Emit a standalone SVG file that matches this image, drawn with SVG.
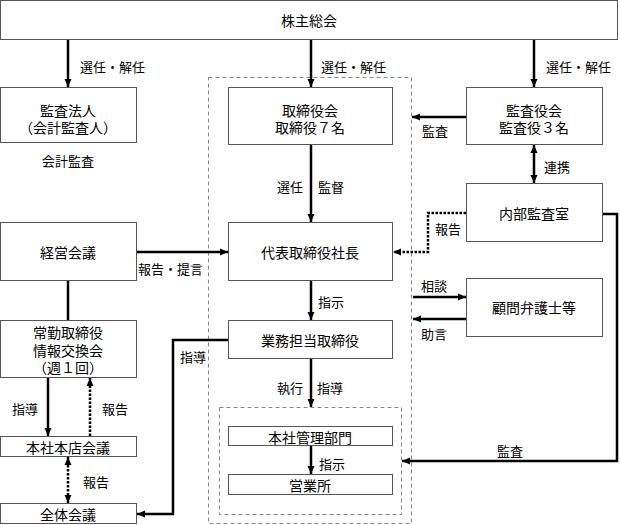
<svg xmlns="http://www.w3.org/2000/svg" width="620" height="525" viewBox="0 0 620 525">
<defs>
<style>
text{font-family:"Noto Sans CJK JP","Noto Sans CJK SC",sans-serif;fill:#000;dominant-baseline:central}
.n{font-size:14px;text-anchor:middle}
.l{font-size:13px}
.box{fill:#fff;stroke:#555;stroke-width:1}
.frame{fill:none;stroke:#888;stroke-width:1;stroke-dasharray:4 3}
.c{fill:none;stroke:#000;stroke-width:2.5}
.d{fill:none;stroke:#000;stroke-width:2.5;stroke-dasharray:2.5 1.5}
</style>
<marker id="a" markerUnits="userSpaceOnUse" markerWidth="10" markerHeight="10" viewBox="0 0 10 10" refX="9" refY="5" orient="auto-start-reverse"><path d="M1,1.5 L9,5 L1,8.5 Z" fill="#000"/></marker>
</defs>
<rect x="0" y="0" width="620" height="525" fill="#fff"/>
<g id="frames">
<rect class="frame" x="208.5" y="77.5" width="203" height="446"/>
<rect class="frame" x="219.5" y="407.5" width="182" height="107"/>
</g>
<g id="connectors">
<path class="c" d="M68,39 V87" marker-end="url(#a)"/>
<path class="c" d="M311,39 V87" marker-end="url(#a)"/>
<path class="c" d="M534,39 V87" marker-end="url(#a)"/>
<path class="c" d="M466,117 H412" marker-end="url(#a)"/>
<path class="c" d="M534,145 V183" marker-start="url(#a)" marker-end="url(#a)"/>
<path class="c" d="M311,145 V222" marker-end="url(#a)"/>
<path class="c" d="M136,252 H228" marker-end="url(#a)"/>
<path class="d" d="M466,213 H428 V252 H393" marker-end="url(#a)"/>
<path class="c" d="M413,297 H466" marker-end="url(#a)"/>
<path class="c" d="M466,319 H413" marker-end="url(#a)"/>
<path class="c" d="M311,281 V320" marker-end="url(#a)"/>
<path class="c" d="M68,281 V320"/>
<path class="c" d="M228,340 H173 V514 H137" marker-end="url(#a)"/>
<path class="c" d="M48,378 V436" marker-end="url(#a)"/>
<path class="d" d="M90,436 V378" marker-end="url(#a)"/>
<path class="d" d="M68,457 V503" marker-start="url(#a)" marker-end="url(#a)"/>
<path class="c" d="M311,359 V407" marker-end="url(#a)"/>
<path class="c" d="M311,446 V474" marker-end="url(#a)"/>
<path class="c" d="M602,214 H617 V461 H402" marker-end="url(#a)"/>
</g>
<g id="labels">
<text class="l" x="80" y="66">選任・解任</text>
<text class="l" x="321" y="66">選任・解任</text>
<text class="l" x="546" y="66">選任・解任</text>
<text class="l" x="68" y="160" text-anchor="middle">会計監査</text>
<text class="l" x="422" y="130">監査</text>
<text class="l" x="544" y="166">連携</text>
<text class="l" x="303" y="186" text-anchor="end">選任</text>
<text class="l" x="318" y="186">監督</text>
<text class="l" x="138" y="268">報告・提言</text>
<text class="l" x="435" y="228">報告</text>
<text class="l" x="421" y="285">相談</text>
<text class="l" x="421" y="333">助言</text>
<text class="l" x="318" y="301">指示</text>
<text class="l" x="180" y="356">指導</text>
<text class="l" x="12" y="408">指導</text>
<text class="l" x="102" y="408">報告</text>
<text class="l" x="83" y="481">報告</text>
<text class="l" x="303" y="387" text-anchor="end">執行</text>
<text class="l" x="317" y="387">指導</text>
<text class="l" x="319" y="463">指示</text>
<text class="l" x="497" y="450">監査</text>
</g>
<g id="n-kabunushi"><rect class="box" x="0.5" y="0.5" width="617" height="39"/><text class="n" x="309" y="20">株主総会</text></g>
<g id="n-kansahojin"><rect class="box" x="0.5" y="87.5" width="136" height="55"/><text class="n" x="68" y="110">監査法人</text><text class="n" x="68" y="127">（会計監査人）</text></g>
<g id="n-torishimariyakukai"><rect class="box" x="228.5" y="87.5" width="164" height="57"/><text class="n" x="310" y="110">取締役会</text><text class="n" x="310" y="127">取締役７名</text></g>
<g id="n-kansayakukai"><rect class="box" x="466.5" y="87.5" width="136" height="57"/><text class="n" x="534" y="110">監査役会</text><text class="n" x="534" y="127">監査役３名</text></g>
<g id="n-naibu"><rect class="box" x="466.5" y="183.5" width="136" height="58"/><text class="n" x="534" y="213">内部監査室</text></g>
<g id="n-keiei"><rect class="box" x="0.5" y="222.5" width="136" height="58"/><text class="n" x="68" y="252">経営会議</text></g>
<g id="n-daihyo"><rect class="box" x="228.5" y="222.5" width="164" height="58"/><text class="n" x="310" y="252">代表取締役社長</text></g>
<g id="n-komon"><rect class="box" x="466.5" y="278.5" width="136" height="58"/><text class="n" x="534" y="307">顧問弁護士等</text></g>
<g id="n-gyomu"><rect class="box" x="228.5" y="320.5" width="164" height="38"/><text class="n" x="310" y="340">業務担当取締役</text></g>
<g id="n-jokin"><rect class="box" x="0.5" y="320.5" width="136" height="57"/><text class="n" x="68" y="332">常勤取締役</text><text class="n" x="68" y="350">情報交換会</text><text class="n" x="68" y="367">（週１回）</text></g>
<g id="n-honten"><rect class="box" x="0.5" y="436.5" width="136" height="20"/><text class="n" x="68" y="447">本社本店会議</text></g>
<g id="n-zentai"><rect class="box" x="0.5" y="503.5" width="136" height="20"/><text class="n" x="68" y="514">全体会議</text></g>
<g id="n-kanri"><rect class="box" x="228.5" y="426.5" width="164" height="19"/><text class="n" x="310" y="436.5">本社管理部門</text></g>
<g id="n-eigyo"><rect class="box" x="228.5" y="474.5" width="164" height="20"/><text class="n" x="310" y="485">営業所</text></g>
</svg>
